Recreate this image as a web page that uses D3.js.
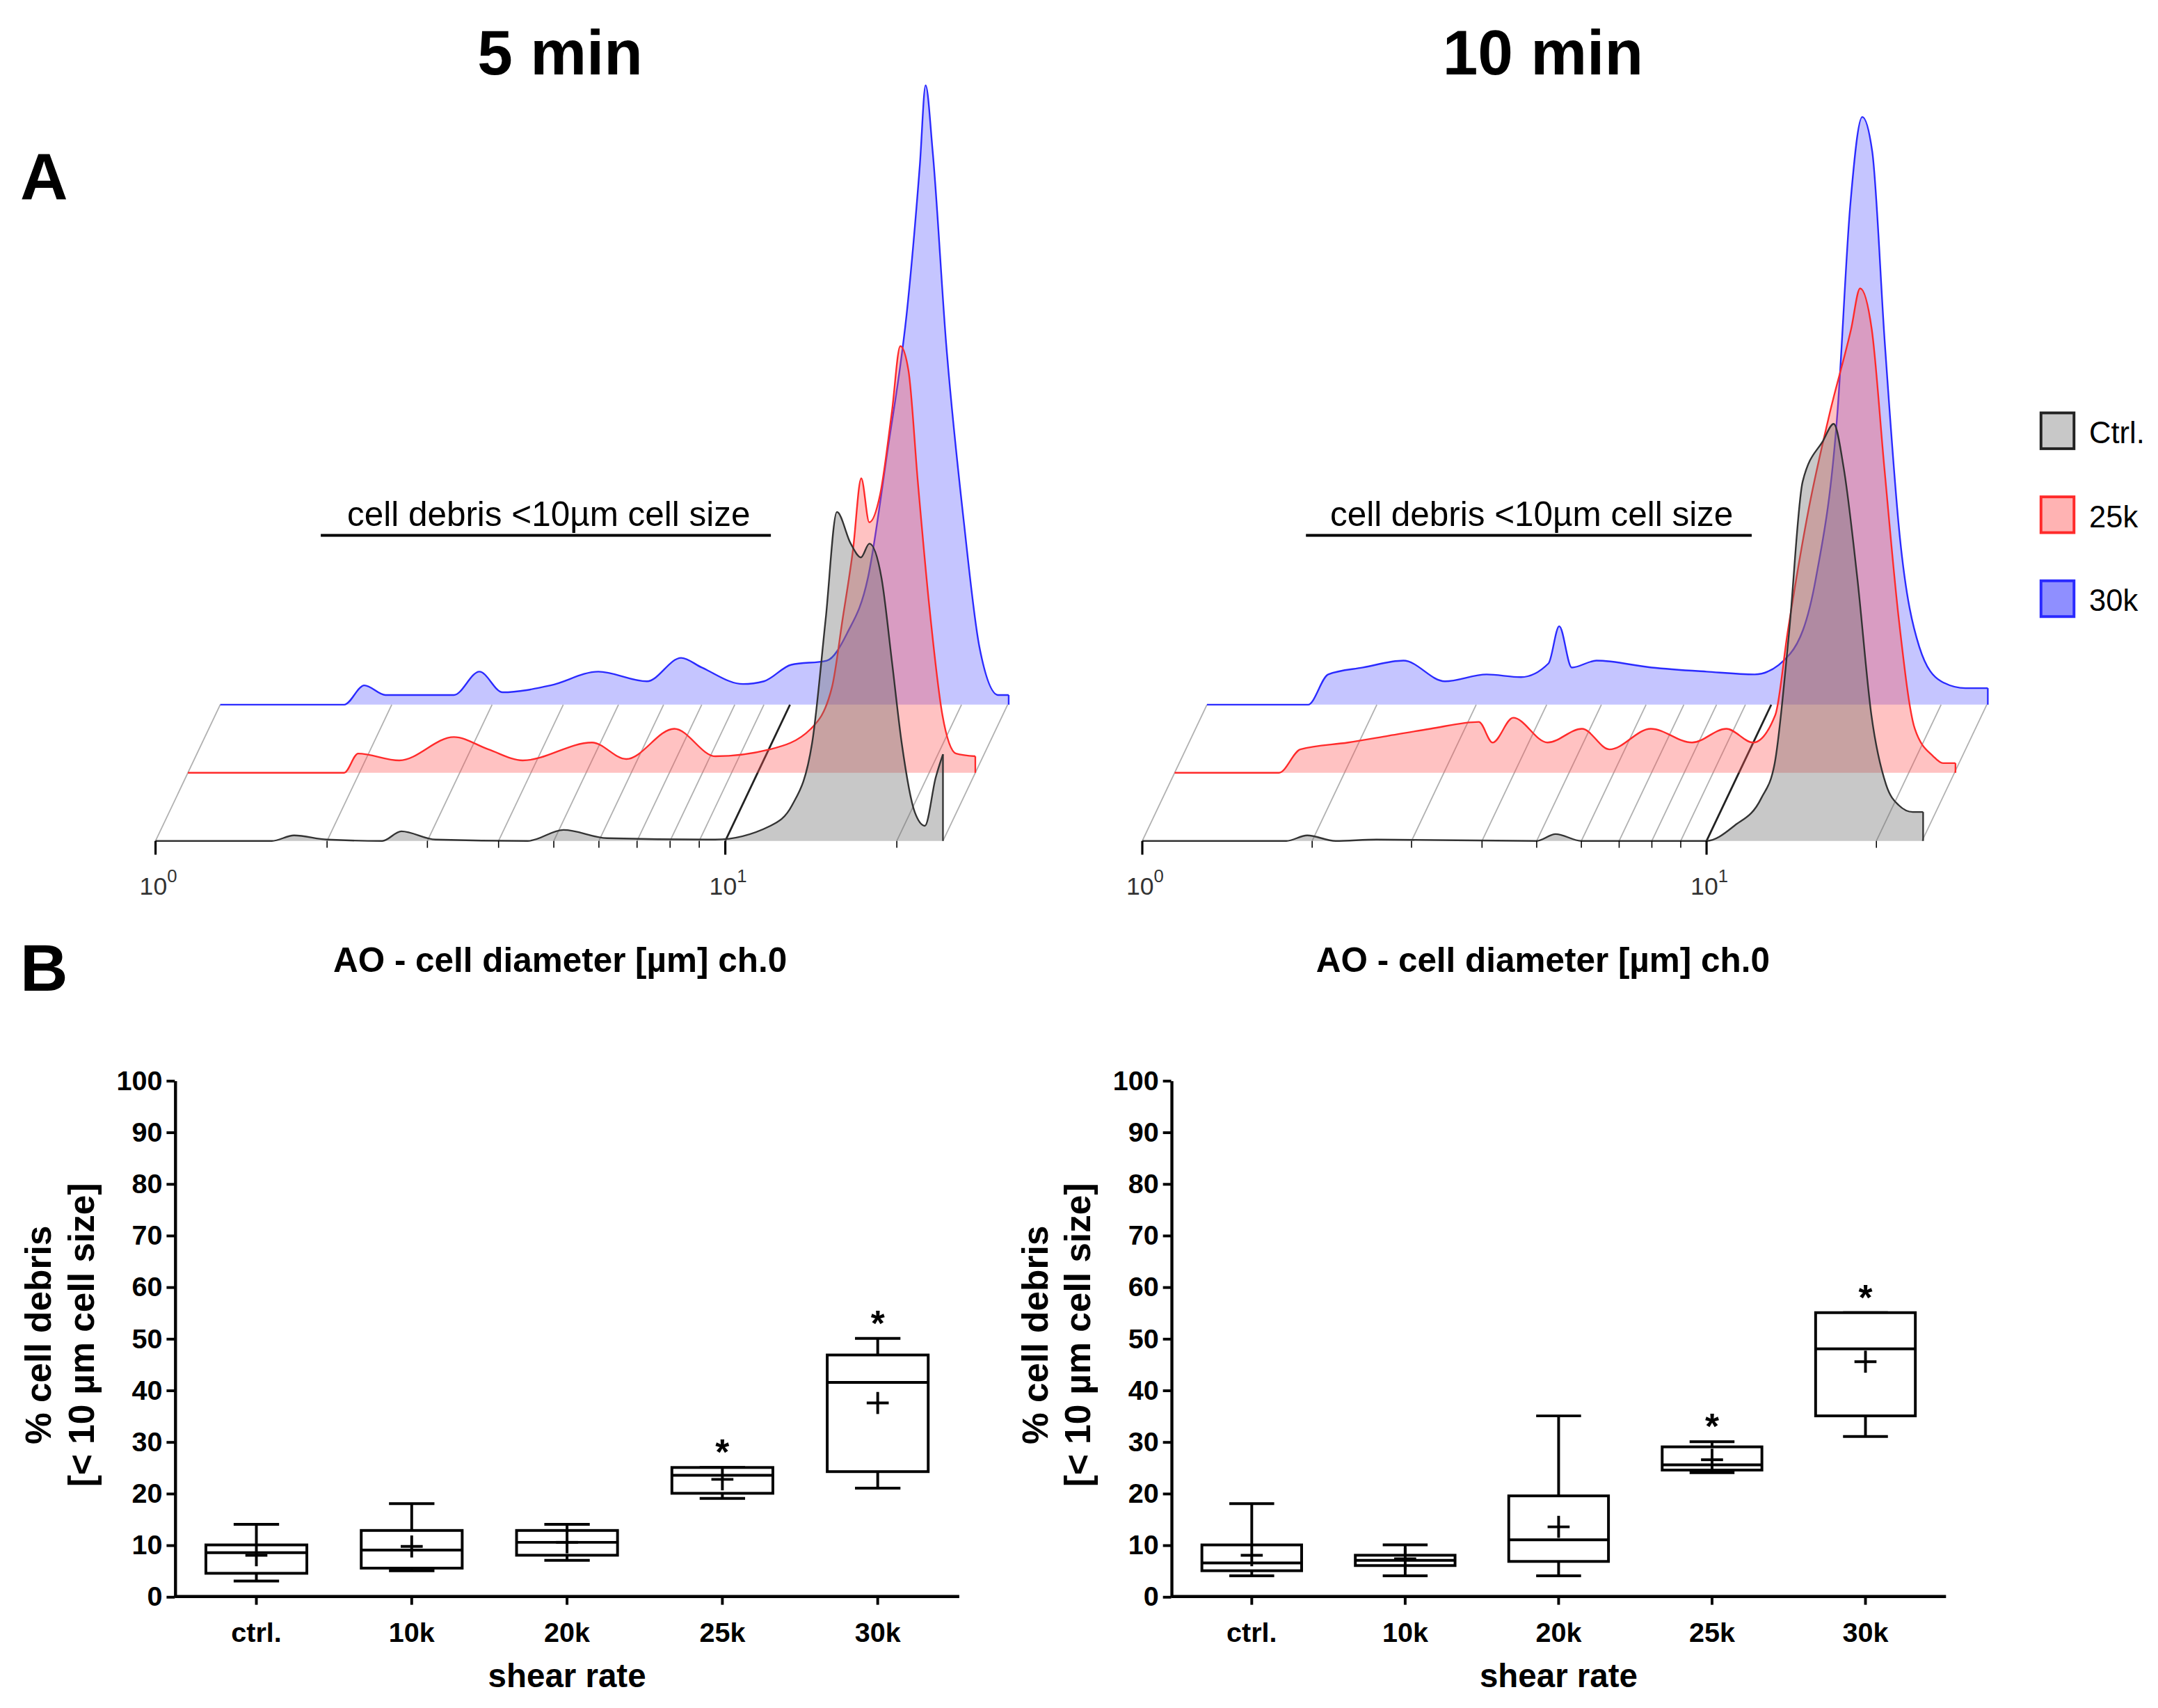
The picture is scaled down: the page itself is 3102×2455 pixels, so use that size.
<!DOCTYPE html>
<html><head><meta charset="utf-8">
<script src="https://cdn.jsdelivr.net/npm/d3@7"></script>
<style>
body{margin:0;background:#fff}
text{font-family:"Liberation Sans",Arial,sans-serif}
.narrow{font-family:"Liberation Sans Narrow","Liberation Sans",Arial,sans-serif;font-weight:bold}
</style></head>
<body>
<svg id="fig" width="3102" height="2455" viewBox="0 0 1568 1241"></svg>
<script>
// histogram traces: [diameter µm, count]
var hist5Ctrl = [[1,0],[1.6,0],[1.75,4],[2.0,1],[2.5,0],[2.7,7],[3.1,1],[4.5,0],[5.2,8],[6.2,2],[9.6,1],[12,11],[13.1,26],[14.2,71],[15.0,161],[15.7,239],[16.6,216],[17.3,206],[17.9,216],[18.8,191],[19.6,131],[20.4,71],[21.5,21],[22.4,11],[23.4,46],[24.1,63]];
var hist5R25 = [[1,0],[1.88,0],[1.99,14],[2.35,9],[2.93,26],[3.37,17],[3.87,9],[5.12,22],[5.88,10],[7.14,32],[8.43,12],[10.5,17],[12.4,32],[13.5,62],[14.1,112],[14.7,162],[15.2,214],[15.7,182],[16.4,202],[17.2,262],[17.8,310],[18.4,292],[19.1,212],[20.0,122],[21.1,42],[22.3,14],[24.1,12]];
var hist5R30 = [[1,0],[1.65,0],[1.79,14],[1.95,7],[2.57,7],[2.85,24],[3.13,9],[3.8,14],[4.61,24],[5.61,17],[6.44,34],[7.0,27],[8.27,15],[9.0,17],[10.05,29],[11.6,32],[12.6,52],[13.7,92],[14.8,182],[16.1,292],[16.9,392],[17.3,450],[17.8,402],[18.8,262],[20.2,132],[21.5,42],[23.2,7],[24.2,7]];
var hist10Ctrl = [[1,0],[1.8,0],[1.96,4],[2.2,0],[2.6,1],[5.0,0],[5.4,5],[6,0],[10,0],[11.2,11],[12.5,31],[13.2,56],[14.0,151],[14.8,261],[16.1,291],[16.8,303],[17.5,271],[18.5,191],[19.6,91],[20.8,41],[21.9,26],[23.2,21],[24.2,21]];
var hist10R25 = [[1,0],[1.53,0],[1.67,17],[2.03,22],[2.4,27],[2.84,32],[3.46,37],[3.66,22],[3.98,40],[4.58,22],[5.27,32],[5.9,17],[6.98,32],[8.26,22],[9.5,32],[10.6,22],[11.6,42],[12.2,102],[13.3,192],[14.5,262],[15.8,322],[16.4,352],[17.2,322],[18.1,222],[19.2,112],[20.5,32],[22.1,12],[23.0,7],[24.2,7]];
var hist10R30 = [[1,0],[1.51,0],[1.64,22],[1.89,27],[2.23,32],[2.64,17],[3.13,22],[3.6,20],[4.03,30],[4.21,57],[4.43,27],[4.9,32],[6.14,27],[7.68,24],[9.35,22],[10.8,37],[12.0,92],[13.1,212],[13.8,362],[14.5,427],[15.1,402],[15.9,262],[16.9,122],[18.3,42],[20.0,17],[22.1,12],[24.2,12]];

var gridTicks = [1,2,3,4,5,6,7,8,9,10,20];
var groupNames = ["Ctrl.","25k","30k"];

// box plots: [min, q1, median, q3, max, mean]
var shearRates = ["ctrl.","10k","20k","25k","30k"];
var box5 = [[3,4.5,8.5,10,14,8],[5,5.5,9,12.8,18,9.7],[7,8,10.5,12.8,14,10.5],[19,20,23.5,25,25,22.7],[21,24.2,41.5,46.8,50,37.5]];
var box10 = [[4,5,6.5,10,18,8],[4,6,7,8,10,7.3],[4,6.8,11,19.5,35,13.5],[24,24.5,25.5,29,30,26.5],[31,35,48,55,55,45.5]];
var star5 = [false,false,false,true,true];
var star10 = [false,false,false,true,true];
var yTicks = d3.range(0,101,10);

var svg = d3.select("#fig");
var strokes = ["#333","#ff2a2a","#2a2aff"];
var fills = ["rgba(110,110,110,0.38)","rgba(255,80,80,0.35)","rgba(90,90,255,0.35)"];

function drawHist(x0, decade, title, traces) {
  var g = svg.append("g");
  var base = 611, dx = 23.5, dy = -49.5;
  var x = d3.scaleLog().domain([1,24.1]).range([x0, x0 + decade*Math.log10(24.1)]);
  var y = d3.scaleLinear().domain([0,100]).range([0,-100]);
  gridTicks.concat([24.1]).forEach(function(t) {
    g.append("line").attr("x1", x(t)).attr("y1", base).attr("x2", x(t)+2*dx).attr("y2", base+2*dy)
      .attr("stroke", t===10 ? "#222" : "#b0b0b0").attr("stroke-width", t===10 ? 1.4 : 0.9);
  });
  [2,1,0].forEach(function(i) {
    var ox = i*dx, oy = base + i*dy;
    var last = traces[i][traces[i].length-1][0];
    var area = d3.area().curve(d3.curveMonotoneX).x(function(d){return x(d[0])+ox;}).y0(oy).y1(function(d){return oy+y(d[1]);});
    var line = d3.line().curve(d3.curveMonotoneX).x(function(d){return x(d[0])+ox;}).y(function(d){return oy+y(d[1]);});
    g.append("path").attr("d", area(traces[i])).attr("fill", fills[i]);
    g.append("path").attr("d", line(traces[i])).attr("fill","none").attr("stroke", strokes[i]).attr("stroke-width",1.2);
    var ye = traces[i][traces[i].length-1][1];
    g.append("line").attr("x1",x(last)+ox).attr("x2",x(last)+ox).attr("y1",oy).attr("y2",oy+y(ye)).attr("stroke",strokes[i]).attr("stroke-width",1.2);
  });
  var ax = g.append("g").attr("transform","translate(0,"+base+")");
  gridTicks.forEach(function(t) {
    ax.append("line").attr("x1",x(t)).attr("x2",x(t)).attr("y1",0).attr("y2", (t===1||t===10)?10:5).attr("stroke","#000").attr("stroke-width",(t===1||t===10)?1.6:0.8);
  });
  [1,10].forEach(function(t,k) {
    var tx = ax.append("text").attr("x",x(t)+2).attr("y",39).attr("text-anchor","middle").attr("font-size",18).attr("fill","#333").text("10");
    tx.append("tspan").attr("dy",-9).attr("font-size",13).text(k);
  });
  g.append("text").attr("x",x0+decade*0.69).attr("y",382).attr("text-anchor","middle").attr("font-size",25).text("cell debris <10µm cell size");
  g.append("line").attr("x1",x0+decade*0.29).attr("x2",x0+decade*1.08).attr("y1",389).attr("y2",389).attr("stroke","#000").attr("stroke-width",2);
  g.append("text").attr("x",x0+decade*0.71).attr("y",54).attr("text-anchor","middle").attr("font-size",46).attr("font-weight","bold").text(title);
  g.append("text").attr("x",x0+decade*0.71).attr("y",706).attr("text-anchor","middle").attr("font-size",25).attr("font-weight","bold").text("AO - cell diameter [µm] ch.0");
}

drawHist(113, 414, "5 min", [hist5Ctrl, hist5R25, hist5R30]);
drawHist(830, 410, "10 min", [hist10Ctrl, hist10R25, hist10R30]);

groupNames.forEach(function(n,i) {
  var ly = 300 + i*61;
  svg.append("rect").attr("x",1483).attr("y",ly).attr("width",24).attr("height",26)
    .attr("fill", ["#c8c8c8","#ffb3b3","#8f8fff"][i]).attr("stroke", ["#222","#ff2a2a","#2a2aff"][i]).attr("stroke-width",2);
  svg.append("text").attr("x",1518).attr("y",ly+22).attr("font-size",22).attr("font-family","Liberation Sans Narrow, Liberation Sans, sans-serif").text(n);
});

svg.append("text").attr("x",32).attr("y",145).attr("text-anchor","middle").attr("font-size",48).attr("font-weight","bold").text("A");
svg.append("text").attr("x",32).attr("y",720).attr("text-anchor","middle").attr("font-size",48).attr("font-weight","bold").text("B");

function drawBox(xAxis, xEnd, data, stars) {
  var g = svg.append("g");
  var y = d3.scaleLinear().domain([0,100]).range([1160,785]);
  var x = d3.scaleBand().domain(shearRates).range([xAxis, xEnd]).paddingInner(0.35).paddingOuter(0.2);
  g.append("g").attr("transform","translate("+xAxis+",0)").call(d3.axisLeft(y).tickValues(yTicks).tickSize(6).tickSizeOuter(0))
    .call(function(a){a.select(".domain").attr("stroke-width",2.2);a.selectAll("line").attr("stroke-width",2);a.selectAll("text").attr("class","narrow").attr("font-size",20).attr("fill","#000");});
  g.append("g").attr("transform","translate(0,1160)").call(d3.axisBottom(x).tickSize(6).tickSizeOuter(0))
    .call(function(a){a.select(".domain").attr("d","M"+xAxis+",0H"+xEnd).attr("stroke-width",2.2);a.selectAll("line").attr("stroke-width",2);a.selectAll("text").attr("class","narrow").attr("font-size",20).attr("dy","1.2em").attr("fill","#000");});
  data.forEach(function(d,i) {
    var c = x(shearRates[i]) + x.bandwidth()/2, w = x.bandwidth(), cw = w*0.45;
    function ln(x1,y1,x2,y2){g.append("line").attr("x1",x1).attr("y1",y1).attr("x2",x2).attr("y2",y2).attr("stroke","#000").attr("stroke-width",2);}
    ln(c,y(d[0]),c,y(d[1])); ln(c,y(d[3]),c,y(d[4]));
    ln(c-cw/2,y(d[0]),c+cw/2,y(d[0])); ln(c-cw/2,y(d[4]),c+cw/2,y(d[4]));
    g.append("rect").attr("x",c-w/2).attr("y",y(d[3])).attr("width",w).attr("height",y(d[1])-y(d[3])).attr("fill","#fff").attr("stroke","#000").attr("stroke-width",2);
    ln(c-w/2,y(d[2]),c+w/2,y(d[2]));
    ln(c-8,y(d[5]),c+8,y(d[5])); ln(c,y(d[5])-8,c,y(d[5])+8);
    if (stars[i]) g.append("text").attr("x",c).attr("y",y(d[4])-2).attr("text-anchor","middle").attr("font-size",26).attr("font-weight","bold").text("*");
  });
  g.append("text").attr("class","narrow").attr("x",(xAxis+xEnd)/2).attr("y",1226).attr("text-anchor","middle").attr("font-size",24).text("shear rate");
  var t = g.append("text").attr("transform","translate("+(xAxis-90)+",970) rotate(-90)").attr("text-anchor","middle").attr("font-size",26).attr("font-weight","bold");
  t.append("tspan").attr("x",0).attr("dy",0).text("% cell debris");
  t.append("tspan").attr("x",0).attr("dy",31).text("[< 10 µm cell size]");
}

drawBox(127, 697, box5, star5);
drawBox(851, 1414, box10, star10);
</script>
</body></html>
